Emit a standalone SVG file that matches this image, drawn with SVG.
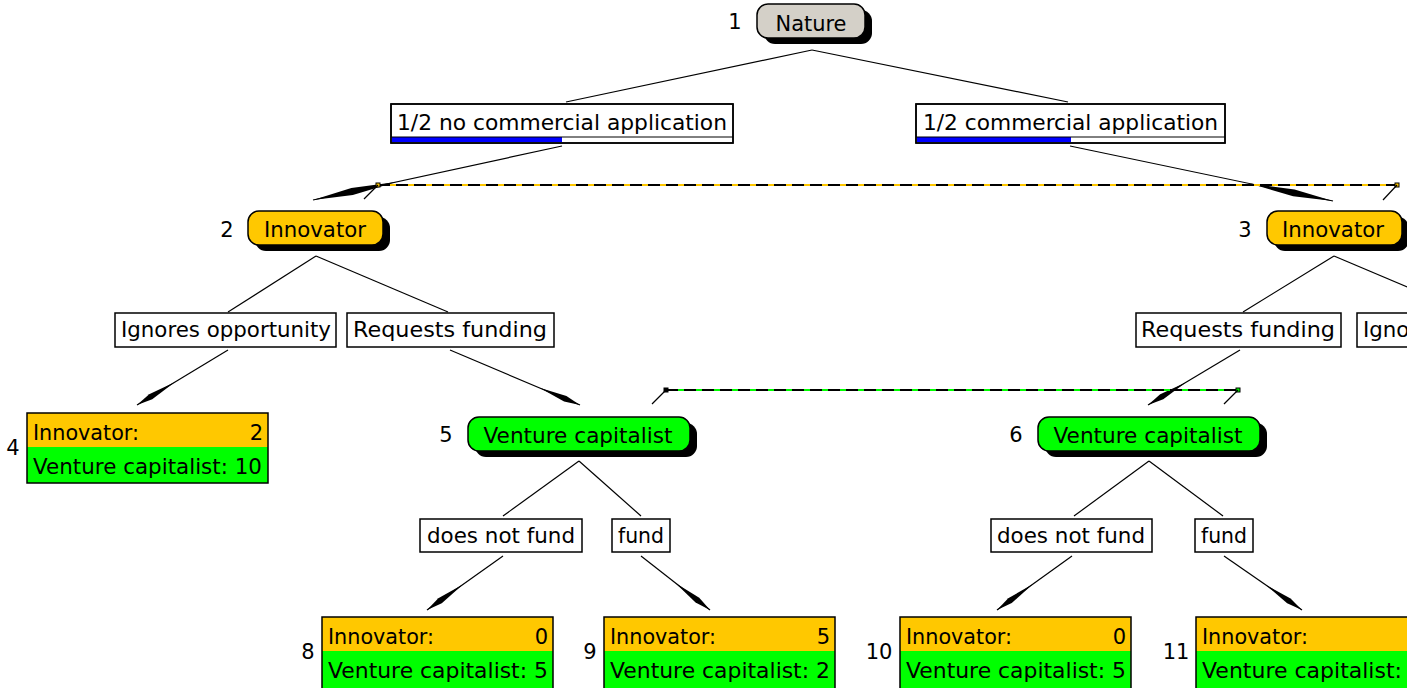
<svg xmlns="http://www.w3.org/2000/svg" width="1407" height="688" viewBox="0 0 1407 688">
<style>
text{font-family:"DejaVu Sans","Liberation Sans",sans-serif;font-size:21px;fill:#000}
.mid{text-anchor:middle}
.end{text-anchor:end}
.lbl{fill:#fff;stroke:#000;stroke-width:1.5}
.shadow{fill:#000}
.pill{stroke:#000;stroke-width:1.5}
.gray{fill:#d4d0c8}
.orange{fill:#ffc800}
.green{fill:#00ff00}
.edge{stroke:#000;stroke-width:1.2;fill:none}
.outline{fill:none;stroke:#000;stroke-width:1.5}
</style>
<defs>
<marker id="arrS" viewBox="-48 -5 50 10" refX="0" refY="0" markerWidth="50" markerHeight="10" markerUnits="userSpaceOnUse" orient="auto">
<path d="M0,0 L-16,-3 L-44,0 L-16,3 Z" fill="#000"/>
</marker>
<marker id="arrL" viewBox="-90 -5 92 10" refX="0" refY="0" markerWidth="92" markerHeight="10" markerUnits="userSpaceOnUse" orient="auto">
<path d="M0,0 L-40,-3.5 L-85,0 L-40,3.5 Z" fill="#000"/>
</marker>
</defs>

<g id="connectors">
<line class="edge" x1="812" y1="50" x2="566" y2="102"/>
<line class="edge" x1="812" y1="50" x2="1068" y2="102"/>
<line class="edge" x1="562" y1="146" x2="313" y2="200" marker-end="url(#arrL)"/>
<line class="edge" x1="1070" y1="146" x2="1333" y2="201" marker-end="url(#arrL)"/>
<line class="edge" x1="316" y1="256" x2="228" y2="312"/>
<line class="edge" x1="316" y1="256" x2="448" y2="312"/>
<line class="edge" x1="1334" y1="256" x2="1243" y2="312"/>
<line class="edge" x1="1334" y1="256" x2="1466" y2="312"/>
<line class="edge" x1="228" y1="350" x2="137" y2="405" marker-end="url(#arrS)"/>
<line class="edge" x1="450" y1="350" x2="580" y2="405" marker-end="url(#arrS)"/>
<line class="edge" x1="1240" y1="350" x2="1148" y2="405" marker-end="url(#arrS)"/>
<line class="edge" x1="579" y1="461" x2="503" y2="516"/>
<line class="edge" x1="579" y1="461" x2="641" y2="516"/>
<line class="edge" x1="1149" y1="461" x2="1074" y2="516"/>
<line class="edge" x1="1149" y1="461" x2="1223" y2="516"/>
<line class="edge" x1="503" y1="556" x2="427" y2="610" marker-end="url(#arrS)"/>
<line class="edge" x1="641" y1="556" x2="710" y2="610" marker-end="url(#arrS)"/>
<line class="edge" x1="1072" y1="556" x2="997" y2="610" marker-end="url(#arrS)"/>
<line class="edge" x1="1224" y1="556" x2="1302" y2="610" marker-end="url(#arrS)"/>
<g id="infoset-innovator">
<line x1="378" y1="185" x2="1397" y2="185" stroke="#ffc800" stroke-width="2"/>
<line x1="378" y1="185" x2="1397" y2="185" stroke="#000" stroke-width="2" stroke-dasharray="12 6"/>
<rect x="376" y="183" width="4" height="4" fill="#ffc800" stroke="#000" stroke-width="1"/>
<rect x="1395" y="183" width="4" height="4" fill="#ffc800" stroke="#000" stroke-width="1"/>
<line class="edge" x1="378" y1="185" x2="364" y2="199"/>
<line class="edge" x1="1397" y1="185" x2="1383" y2="200"/>
</g>
<g id="infoset-vc">
<line x1="666" y1="390" x2="1238" y2="390" stroke="#00ff00" stroke-width="2"/>
<line x1="666" y1="390" x2="1238" y2="390" stroke="#000" stroke-width="2" stroke-dasharray="12 6"/>
<rect x="664" y="388" width="4" height="4" fill="#000" stroke="#000" stroke-width="1"/>
<rect x="1236" y="388" width="4" height="4" fill="#00ff00" stroke="#000" stroke-width="1"/>
<line class="edge" x1="666" y1="390" x2="652" y2="404"/>
<line class="edge" x1="1238" y1="390" x2="1224" y2="404"/>
</g>
</g>

<g id="node1">
<rect class="shadow" x="764" y="10" width="108" height="34" rx="11"/>
<rect class="pill gray" x="757" y="4" width="108" height="34" rx="11"/>
<text class="mid" x="811" y="31" textLength="71" lengthAdjust="spacingAndGlyphs">Nature</text>
<text class="mid" x="735" y="29">1</text>
</g>

<g id="chance-no">
<rect class="lbl" x="391" y="104" width="342" height="39"/>
<rect x="392" y="137" width="170" height="5" fill="#0000ff"/>
<line x1="391" y1="137" x2="733" y2="137" stroke="#000" stroke-width="1"/>
<rect class="outline" x="391" y="104" width="342" height="39"/>
<text x="397" y="130" textLength="330" lengthAdjust="spacingAndGlyphs">1/2 no commercial application</text>
</g>

<g id="chance-yes">
<rect class="lbl" x="916" y="104" width="309" height="39"/>
<rect x="917" y="137" width="154" height="5" fill="#0000ff"/>
<line x1="916" y1="137" x2="1225" y2="137" stroke="#000" stroke-width="1"/>
<rect class="outline" x="916" y="104" width="309" height="39"/>
<text x="923" y="130" textLength="295" lengthAdjust="spacingAndGlyphs">1/2 commercial application</text>
</g>

<g id="node2">
<rect class="shadow" x="255" y="217" width="135" height="34" rx="11"/>
<rect class="pill orange" x="248" y="211" width="135" height="34" rx="11"/>
<text class="mid" x="315" y="237" textLength="102" lengthAdjust="spacingAndGlyphs">Innovator</text>
<text class="mid" x="227" y="237">2</text>
</g>

<g id="node3">
<rect class="shadow" x="1274" y="217" width="135" height="34" rx="11"/>
<rect class="pill orange" x="1267" y="211" width="135" height="34" rx="11"/>
<text class="mid" x="1333" y="237" textLength="102" lengthAdjust="spacingAndGlyphs">Innovator</text>
<text class="mid" x="1245" y="237">3</text>
</g>

<g id="action-ignores-2">
<rect class="lbl" x="115" y="313" width="221" height="34"/>
<text class="mid" x="226" y="337" textLength="210" lengthAdjust="spacingAndGlyphs">Ignores opportunity</text>
</g>
<g id="action-requests-2">
<rect class="lbl" x="347" y="313" width="207" height="34"/>
<text class="mid" x="450" y="337" textLength="194" lengthAdjust="spacingAndGlyphs">Requests funding</text>
</g>
<g id="action-requests-3">
<rect class="lbl" x="1136" y="313" width="205" height="34"/>
<text class="mid" x="1238" y="337" textLength="194" lengthAdjust="spacingAndGlyphs">Requests funding</text>
</g>
<g id="action-ignores-3">
<rect class="lbl" x="1357" y="313" width="221" height="34"/>
<text x="1363" y="337" textLength="210" lengthAdjust="spacingAndGlyphs">Ignores opportunity</text>
</g>

<g id="node4">
<rect class="green" x="27" y="413" width="241" height="70"/>
<rect class="orange" x="27" y="413" width="241" height="34"/>
<rect class="outline" x="27" y="413" width="241" height="70"/>
<text x="33" y="440" textLength="106" lengthAdjust="spacingAndGlyphs">Innovator:</text>
<text class="end" x="263" y="440">2</text>
<text x="33" y="474" textLength="229" lengthAdjust="spacingAndGlyphs">Venture capitalist: 10</text>
<text class="mid" x="13" y="455">4</text>
</g>

<g id="node5">
<rect class="shadow" x="475" y="423" width="222" height="34" rx="11"/>
<rect class="pill green" x="468" y="417" width="222" height="34" rx="11"/>
<text class="mid" x="578" y="443" textLength="189" lengthAdjust="spacingAndGlyphs">Venture capitalist</text>
<text class="mid" x="446" y="442">5</text>
</g>

<g id="node6">
<rect class="shadow" x="1045" y="423" width="222" height="34" rx="11"/>
<rect class="pill green" x="1038" y="417" width="222" height="34" rx="11"/>
<text class="mid" x="1148" y="443" textLength="189" lengthAdjust="spacingAndGlyphs">Venture capitalist</text>
<text class="mid" x="1016" y="442">6</text>
</g>

<g id="action-notfund-5">
<rect class="lbl" x="420" y="519" width="162" height="33"/>
<text class="mid" x="501" y="543" textLength="148" lengthAdjust="spacingAndGlyphs">does not fund</text>
</g>
<g id="action-fund-5">
<rect class="lbl" x="612" y="519" width="58" height="33"/>
<text class="mid" x="641" y="543" textLength="46" lengthAdjust="spacingAndGlyphs">fund</text>
</g>
<g id="action-notfund-6">
<rect class="lbl" x="991" y="519" width="161" height="33"/>
<text class="mid" x="1071" y="543" textLength="148" lengthAdjust="spacingAndGlyphs">does not fund</text>
</g>
<g id="action-fund-6">
<rect class="lbl" x="1195" y="519" width="58" height="33"/>
<text class="mid" x="1224" y="543" textLength="46" lengthAdjust="spacingAndGlyphs">fund</text>
</g>

<g id="node8">
<rect class="green" x="322" y="617" width="231" height="72"/>
<rect class="orange" x="322" y="617" width="231" height="34"/>
<rect class="outline" x="322" y="617" width="231" height="72"/>
<text x="328" y="644" textLength="106" lengthAdjust="spacingAndGlyphs">Innovator:</text>
<text class="end" x="548" y="644">0</text>
<text x="328" y="678" textLength="220" lengthAdjust="spacingAndGlyphs">Venture capitalist: 5</text>
<text class="mid" x="308" y="659">8</text>
</g>

<g id="node9">
<rect class="green" x="604" y="617" width="231" height="72"/>
<rect class="orange" x="604" y="617" width="231" height="34"/>
<rect class="outline" x="604" y="617" width="231" height="72"/>
<text x="610" y="644" textLength="106" lengthAdjust="spacingAndGlyphs">Innovator:</text>
<text class="end" x="830" y="644">5</text>
<text x="610" y="678" textLength="220" lengthAdjust="spacingAndGlyphs">Venture capitalist: 2</text>
<text class="mid" x="590" y="659">9</text>
</g>

<g id="node10">
<rect class="green" x="900" y="617" width="231" height="72"/>
<rect class="orange" x="900" y="617" width="231" height="34"/>
<rect class="outline" x="900" y="617" width="231" height="72"/>
<text x="906" y="644" textLength="106" lengthAdjust="spacingAndGlyphs">Innovator:</text>
<text class="end" x="1126" y="644">0</text>
<text x="906" y="678" textLength="220" lengthAdjust="spacingAndGlyphs">Venture capitalist: 5</text>
<text class="mid" x="879" y="659">10</text>
</g>

<g id="node11">
<rect class="green" x="1196" y="617" width="231" height="72"/>
<rect class="orange" x="1196" y="617" width="231" height="34"/>
<rect class="outline" x="1196" y="617" width="231" height="72"/>
<text x="1202" y="644" textLength="106" lengthAdjust="spacingAndGlyphs">Innovator:</text>
<text x="1202" y="678" textLength="200" lengthAdjust="spacingAndGlyphs">Venture capitalist:</text>
<text class="mid" x="1176" y="659">11</text>
</g>
</svg>
